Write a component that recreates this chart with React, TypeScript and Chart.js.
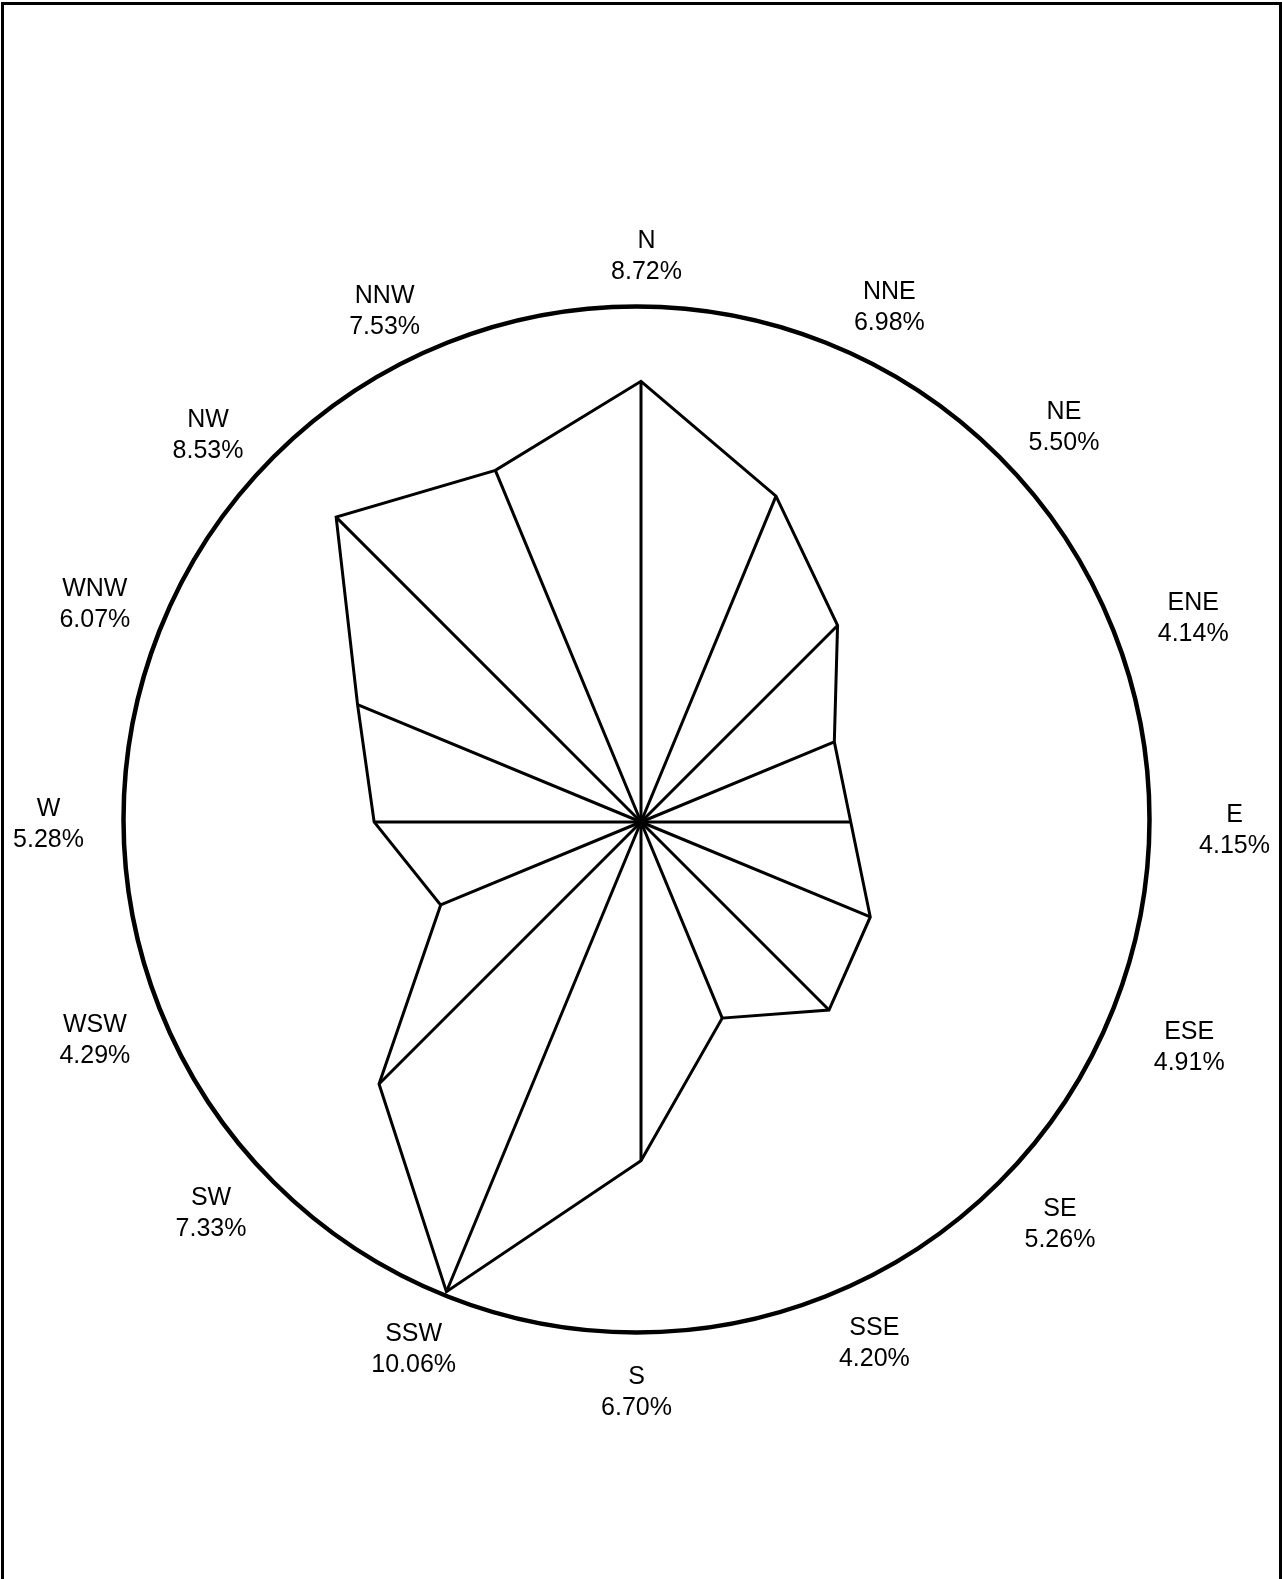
import React, { useEffect, useRef } from "react";
import { Chart, registerables } from "chart.js";

Chart.register(...registerables);

// ---- data ----
const directions = ["N", "NNE", "NE", "ENE", "E", "ESE", "SE", "SSE", "S", "SSW", "SW", "WSW", "W", "WNW", "NW", "NNW"];
const frequencies = [8.72, 6.98, 5.5, 4.14, 4.15, 4.91, 5.26, 4.2, 6.7, 10.06, 7.33, 4.29, 5.28, 6.07, 8.53, 7.53];
const valueLabels = frequencies.map((v) => v.toFixed(2) + "%");
const scaleMax = 10.15;

// ---- layout (label nudges in px, relative to the scale's label anchor) ----
const labelNudge: [number, number][] = [
  [10, 3], [35, 14], [19, 17], [15, 23], [8, 11], [11, 4], [15, -3], [20, -2],
  [0, 7], [-5, 4], [-17, -14], [0, -3], [2, 5], [0, 9], [-20, 25], [-34, 18],
];

const PAGE_W = 1282;
const PAGE_H = 1579;
const FONT = '"Liberation Sans", Arial, sans-serif';

export default function App() {
  const ref = useRef<HTMLCanvasElement | null>(null);

  useEffect(() => {
    document.documentElement.style.overflow = "hidden";
    document.body.style.overflow = "hidden";
    if (!ref.current) return;

    const spokes = {
      id: "spokes",
      afterDatasetsDraw(chart: any) {
        const scale = chart.scales.r;
        const meta = chart.getDatasetMeta(0);
        const ctx = chart.ctx;
        ctx.save();
        ctx.strokeStyle = "#000";
        ctx.lineWidth = 3;
        meta.data.forEach((pt: any) => {
          ctx.beginPath();
          ctx.moveTo(scale.xCenter, scale.yCenter);
          ctx.lineTo(pt.x, pt.y);
          ctx.stroke();
        });
        ctx.restore();
      },
    };

    const dirLabels = {
      id: "dirLabels",
      afterDraw(chart: any) {
        const scale = chart.scales.ring;
        const ctx = chart.ctx;
        const R = scale.drawingArea;
        const a = R + 77;
        const b = R + 53;
        ctx.save();
        ctx.fillStyle = "#000";
        ctx.font = `25px ${FONT}`;
        ctx.textAlign = "center";
        ctx.textBaseline = "middle";
        directions.forEach((d, i) => {
          const ang = scale.getIndexAngle(i);
          const s = Math.sin(ang);
          const c = Math.cos(ang);
          const dist = 1 / Math.sqrt((s * s) / (a * a) + (c * c) / (b * b));
          const p = scale.getPointPosition(i, dist);
          const x = p.x + labelNudge[i][0];
          const y = p.y + labelNudge[i][1];
          ctx.fillText(d, x, y - 15.5);
          ctx.fillText(valueLabels[i], x, y + 15.5);
        });
        ctx.restore();
      },
    };

    const chart = new Chart(ref.current, {
      type: "radar",
      data: {
        labels: directions,
        datasets: [
          {
            data: frequencies,
            rAxisID: "r",
            borderColor: "#000",
            borderWidth: 3,
            backgroundColor: "rgba(0,0,0,0)",
            fill: false,
            pointRadius: 0,
            pointHoverRadius: 0,
            tension: 0,
            borderJoinStyle: "miter",
          },
        ],
      },
      options: {
        animation: false,
        responsive: false,
        devicePixelRatio: 1,
        layout: { padding: { left: 128, top: 309, right: 128, bottom: 244 } },
        plugins: { legend: { display: false }, tooltip: { enabled: false } },
        scales: {
          r: {
            min: 0,
            max: scaleMax,
            ticks: { display: false },
            angleLines: { display: false },
            pointLabels: { display: false },
            grid: { display: false },
          },
          ring: {
            type: "radialLinear",
            min: 0,
            max: 1,
            afterBuildTicks: (scale: any) => {
              scale.ticks = [{ value: 0 }, { value: 1 }];
            },
            afterFit: (scale: any) => {
              scale.xCenter -= 4.5;
              scale.yCenter -= 2.5;
            },
            ticks: { display: false },
            angleLines: { display: false },
            pointLabels: { display: false },
            grid: { circular: true, color: "#000", lineWidth: 4.5 },
          },
        },
      },
      plugins: [spokes, dirLabels],
    } as any);

    return () => chart.destroy();
  }, []);

  return (
    <div style={{ position: "absolute", left: 0, top: 0, width: PAGE_W, height: PAGE_H, background: "#fff", overflow: "hidden" }}>
      <canvas ref={ref} width={PAGE_W} height={PAGE_H} style={{ position: "absolute", left: 0, top: 0, width: PAGE_W, height: PAGE_H }} />
      <div
        style={{
          position: "absolute",
          left: 1,
          top: 2,
          width: 1281,
          height: 1577,
          border: "3px solid #000",
          borderBottom: "none",
          boxSizing: "border-box",
          pointerEvents: "none",
        }}
      />
    </div>
  );
}
